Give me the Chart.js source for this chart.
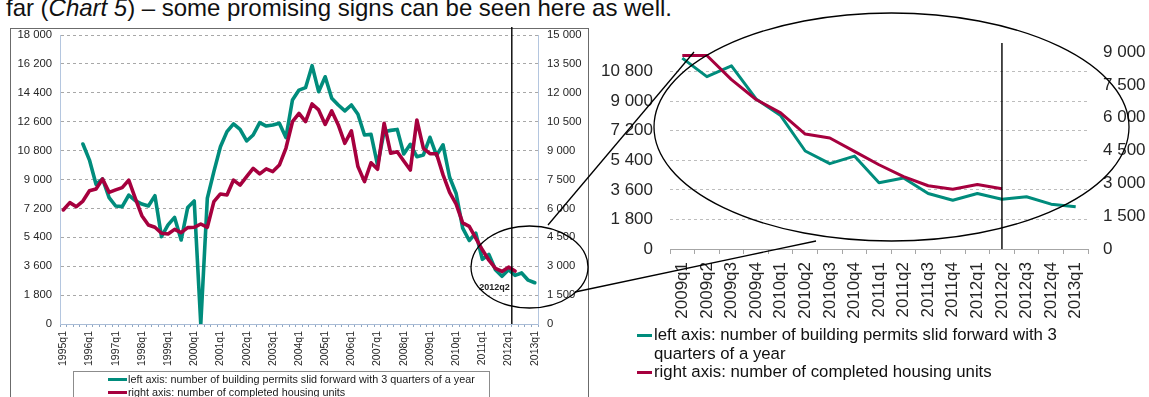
<!DOCTYPE html>
<html>
<head>
<meta charset="utf-8">
<title>Building permits and completed housing units</title>
<script src="https://cdn.jsdelivr.net/npm/chart.js@4.4.1/dist/chart.umd.min.js"></script>
<style>
  html, body { margin: 0; padding: 0; background: #fff; }
  body {
    width: 1149px; height: 397px; position: relative; overflow: hidden;
    font-family: "Liberation Sans", Arial, sans-serif; color: #111;
  }
  #lead { position: absolute; left: 6px; top: -4px; font-size: 24px; line-height: 24px; white-space: nowrap; }
  #frame { position: absolute; left: 10px; top: 28px; width: 579px; height: 390px; border: 1px solid #6b6b6b; box-sizing: border-box; }
  #cLeft { position: absolute; left: 10px; top: 26px; }
  #cZoom { position: absolute; left: 600px; top: 40px; }
  #legBox { position: absolute; left: 73px; top: 371px; width: 417px; height: 40px; border: 1px solid #8c8c8c; box-sizing: border-box; }
  .legend { position: absolute; white-space: nowrap; }
  .legend .item { display: flex; align-items: flex-start; }
  .legend .sw { flex: none; position: relative; }
  .legend .sw::after { content: ""; position: absolute; left: 0; }
  #legSmall { left: 108px; top: 372.5px; font-size: 10.8px; line-height: 13px; color: #1a1a1a; }
  #legSmall .sw { width: 20px; height: 13px; }
  #legSmall .sw::after { width: 19px; height: 3.5px; top: 5px; }
  #legZoom { left: 637px; top: 326px; font-size: 16.8px; line-height: 18.5px; }
  #legZoom .sw { width: 17px; height: 18.5px; }
  #legZoom .sw::after { width: 15px; height: 3px; top: 8px; }
  .teal::after { background: #008c7c; }
  .wine::after { background: #a6003e; }
  #callout { position: absolute; left: 0; top: 0; pointer-events: none; }
</style>
</head>
<body>

<div id="lead"><span id="leadText">far (<i>Chart 5</i>) – some promising signs can be seen here as well.</span></div>

<div id="frame"></div>
<canvas id="cLeft" width="580" height="371"></canvas>
<div id="legBox"></div>
<div class="legend" id="legSmall">
  <div class="item"><span class="sw teal"></span><span>left axis: number of building permits slid forward with 3 quarters of a year</span></div>
  <div class="item"><span class="sw wine"></span><span>right axis: number of completed housing units</span></div>
</div>

<canvas id="cZoom" width="549" height="290"></canvas>
<div class="legend" id="legZoom">
  <div class="item"><span class="sw teal"></span><span>left axis: number of building permits slid forward with 3<br>quarters of a year</span></div>
  <div class="item"><span class="sw wine"></span><span>right axis: number of completed housing units</span></div>
</div>

<svg id="callout" width="1149" height="397">
  <ellipse cx="529.5" cy="267" rx="58.5" ry="41" fill="none" stroke="#000" stroke-width="1.3"/>
  <ellipse cx="891.5" cy="127" rx="237.5" ry="114" fill="none" stroke="#000" stroke-width="1.3"/>
  <line x1="548" y1="225" x2="694" y2="52" stroke="#000" stroke-width="1.3"/>
  <line x1="575" y1="292" x2="816" y2="241" stroke="#000" stroke-width="1.3"/>
</svg>

<script>
// Quarterly categories, 1995q1 - 2013q1
const quarters = [
  '1995q1','1995q2','1995q3','1995q4','1996q1','1996q2','1996q3','1996q4',
  '1997q1','1997q2','1997q3','1997q4','1998q1','1998q2','1998q3','1998q4',
  '1999q1','1999q2','1999q3','1999q4','2000q1','2000q2','2000q3','2000q4',
  '2001q1','2001q2','2001q3','2001q4','2002q1','2002q2','2002q3','2002q4',
  '2003q1','2003q2','2003q3','2003q4','2004q1','2004q2','2004q3','2004q4',
  '2005q1','2005q2','2005q3','2005q4','2006q1','2006q2','2006q3','2006q4',
  '2007q1','2007q2','2007q3','2007q4','2008q1','2008q2','2008q3','2008q4',
  '2009q1','2009q2','2009q3','2009q4','2010q1','2010q2','2010q3','2010q4',
  '2011q1','2011q2','2011q3','2011q4','2012q1','2012q2','2012q3','2012q4',
  '2013q1'
];

// Building permits, shifted forward by three quarters (left axis)
const permitsShifted = [
  null, null, null, 11210,
  10210, 8700, 9030, 7870,
  7350, 7310, 8030, 7680,
  7470, 7350, 7990, 5440,
  6170, 6640, 5230, 7250,
  7660, 0, 7830, 9490,
  11040, 11980, 12460, 12120,
  11400, 11770, 12540, 12330,
  12390, 12500, 11610, 13950,
  14570, 14720, 16090, 14470,
  15400, 14060, 13640, 13270,
  13640, 13060, 11770, 11810,
  9900, 11980, 12060, 12120,
  10590, 11190, 10420, 10530,
  11630, 10500, 11160, 9140,
  8130, 5970, 5200, 5660,
  4030, 4330, 3380, 2970,
  3380, 3030, 3180, 2730,
  2570
];

// Completed housing units (right axis), available up to 2012q2
const completedUnits = [
  5920, 6300, 6090, 6380,
  6920, 7010, 7530, 6830,
  6960, 7080, 7470, 6520,
  5620, 5140, 5020, 4710,
  4670, 4910, 4740, 5000,
  5020, 5190, 5020, 6350,
  6750, 6700, 7470, 7210,
  7650, 8080, 7790, 8050,
  7910, 8250, 9120, 10500,
  10930, 10500, 11420, 11110,
  10360, 11060, 10330, 9380,
  10020, 8170, 7390, 8370,
  8030, 10420, 8860, 8940,
  8460, 7990, 10590, 9120,
  8840, 8840, 7740, 6830,
  6220, 5250, 5070, 4460,
  3850, 3310, 2890, 2730,
  2950, 2750
];

// Axis tick values
const fullLeftTicks  = [0, 1800, 3600, 5400, 7200, 9000, 10800, 12600, 14400, 16200, 18000];
const fullRightTicks = [0, 1500, 3000, 4500, 6000, 7500, 9000, 10500, 12000, 13500, 15000];
const zoomLeftTicks  = [0, 1800, 3600, 5400, 7200, 9000, 10800];
const zoomRightTicks = [0, 1500, 3000, 4500, 6000, 7500, 9000];

const permitsLabel = 'left axis: number of building permits slid forward with 3 quarters of a year';
const completedLabel = 'right axis: number of completed housing units';
const markedQuarter = '2012q2';
const zoomFrom = '2009q1';

const TEAL = '#008c7c';
const WINE = '#a6003e';
const FONT = '"Liberation Sans", Arial, sans-serif';
const TICK_COLOR = '#262626';

const withSpaces = v => String(Math.round(v)).replace(/\B(?=(\d{3})+(?!\d))/g, ' ');
const hideZero = col => (ctx) => (ctx.tick && ctx.tick.value === 0) ? 'rgba(0,0,0,0)' : col;
const fixedTicks = list => (scale) => { scale.ticks = list.map(v => ({ value: v })); };

// Keep the plot area exactly where the layout padding puts it
const sizeY = w => (s) => { s.width = w; s.paddingTop = 0; s.paddingBottom = 0; };
const sizeX = h => (s) => { s.height = h; s.paddingLeft = 0; s.paddingRight = 0; };

// Justify the lead sentence to the column width
(function () {
  const span = document.getElementById('leadText');
  const target = 666;
  const w = span.getBoundingClientRect().width;
  const gaps = (span.textContent.match(/ /g) || []).length;
  if (gaps) span.style.wordSpacing = ((target - w) / gaps).toFixed(2) + 'px';
})();

// Vertical marker line (and optional caption) at a quarter
function markerPlugin(id, getX, topY, caption) {
  return {
    id,
    afterDatasetsDraw(chart) {
      const { ctx, chartArea } = chart;
      const x = getX(chart.scales.x);
      ctx.save();
      ctx.strokeStyle = '#000';
      ctx.lineWidth = 1.4;
      ctx.beginPath();
      ctx.moveTo(x, topY);
      ctx.lineTo(x, chartArea.bottom);
      ctx.stroke();
      if (caption) {
        ctx.fillStyle = '#222';
        ctx.font = 'bold 9px ' + FONT;
        ctx.textAlign = 'right';
        ctx.textBaseline = 'alphabetic';
        ctx.fillText(caption.text, x - 2, caption.y);
      }
      ctx.restore();
    }
  };
}

const markIdx = quarters.indexOf(markedQuarter);

// Full period chart
new Chart(document.getElementById('cLeft'), {
  type: 'line',
  data: {
    labels: quarters,
    datasets: [
      { label: completedLabel, data: completedUnits, yAxisID: 'yR', borderColor: WINE, backgroundColor: WINE,
        borderWidth: 3.6, pointRadius: 0, tension: 0, order: 0, borderJoinStyle: 'round', borderCapStyle: 'round' },
      { label: permitsLabel, data: permitsShifted, yAxisID: 'yL', borderColor: TEAL, backgroundColor: TEAL,
        borderWidth: 3.6, pointRadius: 0, tension: 0, order: 1, borderJoinStyle: 'round', borderCapStyle: 'round' }
    ]
  },
  options: {
    responsive: false, animation: false, devicePixelRatio: 1,
    layout: { padding: { top: 9, left: 0, right: 0, bottom: 0 } },
    plugins: { legend: { display: false }, tooltip: { enabled: false } },
    scales: {
      x: {
        offset: true,
        grid: { offset: true, drawOnChartArea: false, tickLength: 3, color: '#8fa6c2' },
        border: { color: '#a9bcd6' },
        ticks: {
          autoSkip: false, minRotation: 90, maxRotation: 90, padding: 4, color: TICK_COLOR,
          font: { family: FONT, size: 10.5 },
          callback(v, i) { return i % 4 === 0 ? this.getLabelForValue(v) : ''; }
        },
        afterFit: sizeX(73)
      },
      yL: {
        position: 'left', min: 0, max: 18000,
        afterBuildTicks: fixedTicks(fullLeftTicks),
        ticks: { padding: 8, color: TICK_COLOR, font: { family: FONT, size: 11.3 }, callback: v => withSpaces(v) },
        grid: { drawTicks: false, color: hideZero('#a8a8a8'), lineWidth: 1 },
        border: { color: '#b4c6df', dash: [3, 3] },
        afterFit: sizeY(50)
      },
      yR: {
        position: 'right', min: 0, max: 15000,
        afterBuildTicks: fixedTicks(fullRightTicks),
        ticks: { padding: 9, color: TICK_COLOR, font: { family: FONT, size: 11.3 }, callback: v => withSpaces(v) },
        grid: { drawOnChartArea: false, drawTicks: false },
        border: { color: '#b4c6df' },
        afterFit: sizeY(52)
      }
    }
  },
  plugins: [markerPlugin('marker2012', xs => (xs.getPixelForValue(markIdx - 1) + xs.getPixelForValue(markIdx)) / 2, 1,
    { text: markedQuarter, y: 264 })]
});

// Zoomed period chart
const zStart = quarters.indexOf(zoomFrom);
const zoomQuarters = quarters.slice(zStart);
const zoomPermits = permitsShifted.slice(zStart);
const zoomCompleted = completedUnits.slice(zStart);
const zoomMark = zoomQuarters.indexOf(markedQuarter);

new Chart(document.getElementById('cZoom'), {
  type: 'line',
  data: {
    labels: zoomQuarters,
    datasets: [
      { label: completedLabel, data: zoomCompleted, yAxisID: 'yR', borderColor: WINE, backgroundColor: WINE,
        borderWidth: 3, pointRadius: 0, tension: 0, order: 0, borderJoinStyle: 'round' },
      { label: permitsLabel, data: zoomPermits, yAxisID: 'yL', borderColor: TEAL, backgroundColor: TEAL,
        borderWidth: 3, pointRadius: 0, tension: 0, order: 1, borderJoinStyle: 'round' }
    ]
  },
  options: {
    responsive: false, animation: false, devicePixelRatio: 1,
    layout: { padding: { top: 12, left: 0, right: 0, bottom: 0 } },
    plugins: { legend: { display: false }, tooltip: { enabled: false } },
    scales: {
      x: {
        offset: true,
        grid: { offset: true, drawOnChartArea: false, tickLength: 5, color: '#a6a6a6' },
        border: { color: '#a6a6a6' },
        ticks: { autoSkip: false, minRotation: 90, maxRotation: 90, padding: 8, color: TICK_COLOR,
          font: { family: FONT, size: 17 } },
        afterFit: sizeX(81)
      },
      yL: {
        position: 'left', min: 0, max: 12000,
        afterBuildTicks: fixedTicks(zoomLeftTicks),
        ticks: { padding: 17, color: TICK_COLOR, font: { family: FONT, size: 17 }, callback: v => withSpaces(v) },
        grid: { drawTicks: false, color: hideZero('#bdbdbd') },
        border: { display: false, dash: [3, 3] },
        afterFit: sizeY(70)
      },
      yR: {
        position: 'right', min: 0, max: 9000,
        afterBuildTicks: fixedTicks(zoomRightTicks),
        ticks: { padding: 15, color: TICK_COLOR, font: { family: FONT, size: 17 }, callback: v => withSpaces(v) },
        grid: { drawOnChartArea: false, drawTicks: false },
        border: { display: false },
        afterFit: sizeY(61)
      }
    }
  },
  plugins: [markerPlugin('markerZoom', xs => xs.getPixelForValue(zoomMark), 3, null)]
});
</script>
</body>
</html>
